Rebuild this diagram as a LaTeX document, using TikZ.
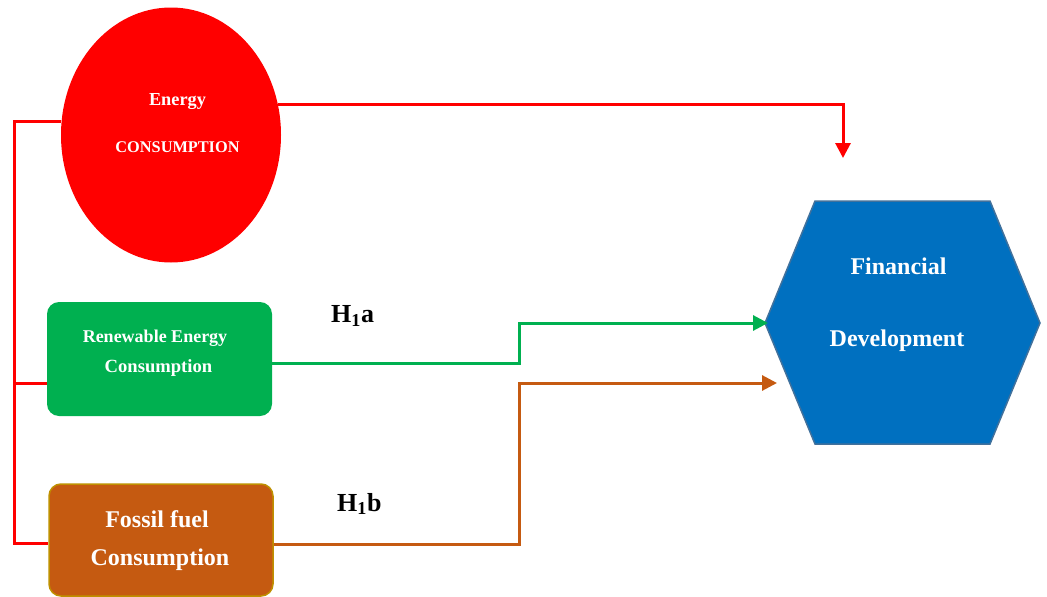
\documentclass[tikz,border=0pt]{standalone}
\usepackage{fontspec}
\setmainfont{Liberation Serif}
\usetikzlibrary{shapes.geometric,arrows.meta}
\definecolor{cred}{HTML}{FF0000}
\definecolor{cgreen}{HTML}{00B050}
\definecolor{corange}{HTML}{C55A11}
\definecolor{cgold}{HTML}{BF9000}
\definecolor{cblue}{HTML}{0070C0}
\definecolor{cblueedge}{HTML}{41719C}
\tikzset{
  conn/.style={line width=3pt},
  tip/.style={-{Triangle[length=15pt,width=15pt]}},
  wtxt/.style={text=white,font=\bfseries,anchor=base,inner sep=0pt},
  btxt/.style={text=black,font=\bfseries\fontsize{26}{30}\selectfont,anchor=base west,inner sep=0pt},
  roundbox/.style={rounded corners=12pt,minimum width=225pt,minimum height=114pt,inner sep=0pt}
}
\begin{document}
\begin{tikzpicture}[x=1pt,y=-1pt]
\useasboundingbox (0,0) rectangle (1047,597);
% shapes
\node[ellipse,fill=cred,minimum width=220pt,minimum height=255pt,inner sep=0pt] (E) at (171,135) {};
\node[roundbox,fill=cgreen] (G) at (159.5,359) {};
\node[roundbox,fill=corange,draw=cgold,line width=1.5pt,minimum width=224pt,minimum height=112pt] (F) at (161,540) {};
\draw[fill=cblue,draw=cblueedge,line width=1.5pt]
  (815,201) -- (990,201) -- (1040,323) -- (990,444) -- (815,444) -- (765,323) -- cycle;
\coordinate (Hw) at (768,323);
% texts
\node[wtxt,font=\bfseries\fontsize{18.3}{20}\selectfont] (e1) at (177.5,105) {Energy};
\node[wtxt,font=\bfseries\fontsize{16.3}{20}\selectfont] (e2) at (177.5,152.5) {CONSUMPTION};
\node[wtxt,font=\bfseries\fontsize{18}{20}\selectfont] (g1) at (155,342) {Renewable Energy};
\node[wtxt,font=\bfseries\fontsize{18.6}{20}\selectfont] (g2) at (158.5,372) {Consumption};
\node[wtxt,font=\bfseries\fontsize{24}{26}\selectfont] (f1) at (157,527) {Fossil fuel};
\node[wtxt,font=\bfseries\fontsize{24}{26}\selectfont] (f2) at (160,565) {Consumption};
\node[wtxt,font=\bfseries\fontsize{24}{26}\selectfont] (h1) at (898.5,274) {Financial};
\node[wtxt,font=\bfseries\fontsize{24}{26}\selectfont] (h2) at (897,346) {Development};
\node[btxt] (la) at (331,322.5) {H\textsubscript{1}a};
\node[btxt] (lb) at (337,511) {H\textsubscript{1}b};
% connectors
\coordinate (rt) at (843,158);
\draw[conn,cred,tip] (E.16) -| (rt);
\coordinate (bus) at (14,543);
\coordinate (gb) at (14,383);
\draw[conn,cred] (E.173) -| (bus) -- (bus -| F.west);
\draw[conn,cred] (gb) -- (gb -| G.west);
\draw[conn,cgreen,tip] ([yshift=-4pt]G.east) -- (519,363) |- (Hw);
\coordinate (ot) at (777,383);
\draw[conn,corange,tip] ([yshift=-4pt]F.east) -- (519,544) |- (ot);
\end{tikzpicture}
\end{document}
